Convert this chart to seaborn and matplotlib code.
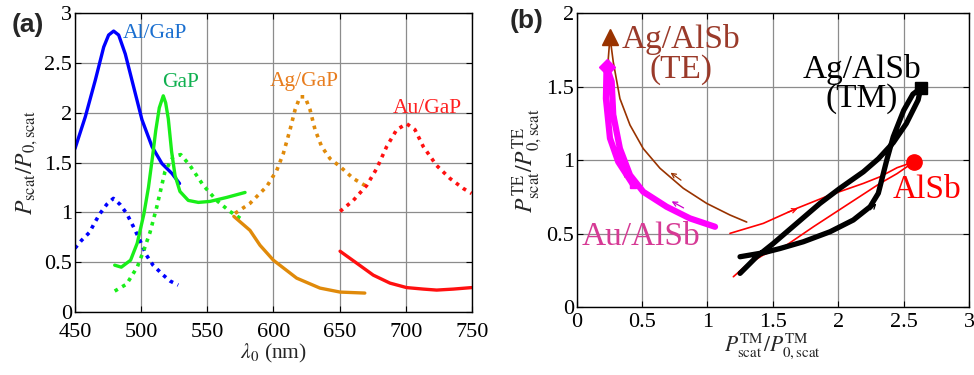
import numpy as np
import pandas as pd
import seaborn as sns
import matplotlib.pyplot as plt

# ---- panel (a): scattering spectra ----
al_x = [450, 457.8, 465.4, 471.7, 475.4, 479.2, 483, 488, 494.3, 500.6, 508.2, 515.7, 523.3, 529]
al_te = [1.64, 1.96, 2.33, 2.66, 2.78, 2.82, 2.78, 2.59, 2.26, 1.93, 1.66, 1.49, 1.39, 1.29]
al_tm_x = [450, 455, 461, 465, 469, 474, 479, 484, 489, 494, 499, 504, 509, 516.7, 522, 528]
al_tm = [0.64, 0.72, 0.80, 0.90, 0.99, 1.08, 1.14, 1.08, 0.99, 0.86, 0.72, 0.57, 0.47, 0.37, 0.31, 0.27]

gap_x = [480, 485, 492, 497, 502, 505.5, 508.5, 511, 513.7, 516.7, 518.5, 520.5, 523, 525.6, 529.3,
         535.6, 543.2, 552, 564.6, 578.5]
gap_te = [0.47, 0.45, 0.52, 0.69, 0.98, 1.25, 1.55, 1.82, 2.05, 2.17, 2.10, 1.94, 1.61, 1.37, 1.21,
          1.12, 1.10, 1.11, 1.15, 1.20]
gap_tm_x = [480, 489, 497, 502, 506.7, 511.7, 518, 524.3, 529.9, 536.9, 547, 557, 567, 577.2]
gap_tm = [0.21, 0.28, 0.45, 0.62, 0.80, 1.05, 1.41, 1.56, 1.58, 1.47, 1.27, 1.12, 1.01, 0.92]

ag_x = [570.9, 582.2, 594.9, 602.4, 607.4, 612.5, 616.3, 620, 623.8, 627.6, 631.4, 636.4, 642.7,
        650.3, 660.3, 669.1]
ag_dot = [0.99, 1.09, 1.26, 1.42, 1.59, 1.83, 2.03, 2.16, 2.16, 2.03, 1.83, 1.66, 1.54,
          1.46, 1.34, 1.27]
ag_sol_x = [570, 582.2, 589.8, 599.9, 617.5, 635.1, 650.3, 669]
ag_sol = [0.96, 0.82, 0.67, 0.52, 0.34, 0.24, 0.20, 0.19]

au_x = [650.3, 660.3, 670.4, 678, 685.5, 693.1, 700.6, 706.9, 713.2, 723.3, 733.4, 743.4, 749.7]
au_dot = [1.01, 1.12, 1.27, 1.44, 1.66, 1.83, 1.89, 1.83, 1.66, 1.47, 1.34, 1.24, 1.19]
au_sol_x = [650.3, 662.9, 675.4, 688, 700.6, 713.2, 723.3, 735.9, 749.7]
au_sol = [0.61, 0.49, 0.37, 0.29, 0.245, 0.23, 0.22, 0.23, 0.245]

# ---- panel (b): TE vs TM trajectories ----
agte_tm = [0.369, 0.318, 0.28, 0.242, 0.255, 0.28, 0.331, 0.408, 0.509, 0.637, 0.815, 0.994, 1.172, 1.30]
agte_te = [0.888, 1.127, 1.42, 1.69, 1.84, 1.67, 1.42, 1.24, 1.08, 0.946, 0.81, 0.707, 0.628, 0.58]

au_tm = [0.433, 0.318, 0.255, 0.224, 0.229, 0.268, 0.28, 0.331, 0.408, 0.509, 0.688, 0.866, 1.058]
au_te = [0.832, 0.99, 1.15, 1.42, 1.637, 1.535, 1.31, 1.08, 0.90, 0.786, 0.684, 0.605, 0.548]

agtm_tm = [1.249, 1.427, 1.555, 1.733, 1.937, 2.115, 2.243, 2.306, 2.37, 2.42, 2.50, 2.57, 2.63,
           2.61, 2.52, 2.42, 2.306, 2.192, 2.013, 1.86, 1.682, 1.504, 1.376, 1.249]
agtm_te = [0.344, 0.371, 0.40, 0.446, 0.514, 0.594, 0.684, 0.776, 1.00, 1.16, 1.34, 1.45, 1.49,
           1.41, 1.25, 1.12, 1.01, 0.922, 0.81, 0.707, 0.571, 0.435, 0.344, 0.231]

alsb_tm = [1.172, 1.427, 1.682, 1.937, 2.192, 2.319, 2.45, 2.58, 2.45, 2.319, 2.065, 1.81, 1.606,
           1.427, 1.30, 1.198]
alsb_te = [0.503, 0.571, 0.673, 0.764, 0.843, 0.888, 0.95, 0.99, 0.91, 0.843, 0.696, 0.548, 0.424,
           0.356, 0.288, 0.208]

sns.set_theme(style="whitegrid")
plt.rcParams['font.family'] = ['Liberation Serif', 'DejaVu Serif']
plt.rcParams['mathtext.fontset'] = 'stix'

fig = plt.figure(figsize=(9.74, 3.75), dpi=100)
ax1 = fig.add_axes([0.077, 0.168, 0.4076, 0.797])
ax2 = fig.add_axes([0.592, 0.1805, 0.403, 0.784])

GRID = '#8c8c8c'


def style(ax, xpad):
    ax.set_facecolor('white')
    for s in ax.spines.values():
        s.set_color('black')
        s.set_linewidth(1.0)
        s.set_visible(True)
    ax.grid(True, color=GRID, lw=0.9)
    ax.tick_params(direction='in', length=4, width=0.8, labelsize=16, colors='black',
                   top=True, right=True, bottom=True, left=True)
    ax.tick_params(axis='x', pad=xpad)
    ax.tick_params(axis='y', pad=2)


def fmt(v):
    return ('%g' % v)


def line(ax, x, y, **kw):
    sns.lineplot(x=x, y=y, ax=ax, sort=False, estimator=None, **kw)


dot = (0, (1, 1.4))

# panel (a)
line(ax1, al_x, al_te, color='#0000ff', lw=2.4)
line(ax1, al_tm_x, al_tm, color='#0000ff', lw=2.6, ls=dot)
line(ax1, gap_x, gap_te, color='#19ee19', lw=2.4)
line(ax1, gap_tm_x, gap_tm, color='#19ee19', lw=2.6, ls=dot)
line(ax1, ag_x, ag_dot, color='#e08a0a', lw=2.6, ls=dot)
line(ax1, ag_sol_x, ag_sol, color='#e08a0a', lw=2.4)
line(ax1, au_x, au_dot, color='#ff1010', lw=2.6, ls=dot)
line(ax1, au_sol_x, au_sol, color='#ff1010', lw=2.4)

ax1.text(486, 2.8, 'Al/GaP', color='#1a6fd0', fontsize=15.5, va='center')
ax1.text(516, 2.3, 'GaP', color='#10b050', fontsize=15.5, va='center')
ax1.text(597, 2.31, 'Ag/GaP', color='#e87d1e', fontsize=15.5, va='center')
ax1.text(690, 2.04, 'Au/GaP', color='#ff2020', fontsize=15.5, va='center')

ax1.set_xlim(450, 750)
ax1.set_ylim(0, 3)
xt = [450, 500, 550, 600, 650, 700, 750]
yt = [0, 0.5, 1, 1.5, 2, 2.5, 3]
ax1.set_xticks(xt)
ax1.set_xticklabels([fmt(v) for v in xt])
ax1.set_yticks(yt)
ax1.set_yticklabels([fmt(v) for v in yt])
style(ax1, 8)
ax1.set_xlabel(r'$\lambda_0$ (nm)', fontsize=15.5, labelpad=0)
ax1.set_ylabel(r'$P_{\rm scat}/P_{0,\rm scat}$', fontsize=17, labelpad=3)

# panel (b)
line(ax2, agte_tm, agte_te, color='#993300', lw=1.2)
line(ax2, au_tm, au_te, color='#ff00ff', lw=4.5)
line(ax2, alsb_tm, alsb_te, color='#ff0000', lw=1.2)
line(ax2, agtm_tm, agtm_te, color='black', lw=3.8)

ax2.plot(agte_tm[4], agte_te[4], marker='^', ms=11, color='#993300', clip_on=False)
ax2.plot(au_tm[4], au_te[4], marker='D', ms=8, color='#ff00ff')
ax2.plot(au_tm[0], au_te[0], marker='s', ms=5, color='#ff00ff')
ax2.plot(agtm_tm[12], agtm_te[12], marker='s', ms=9, color='black')
ax2.plot(alsb_tm[7], alsb_te[7], marker='o', ms=11, color='#ff0000')

arrows = [((0.815, 0.854), (0.70, 0.927), '#993300'),
          ((0.836, 0.667), (0.708, 0.73), '#cc00cc'),
          ((1.593, 0.639), (1.708, 0.678), '#ff0000'),
          ((2.23, 0.65), (2.306, 0.72), 'black')]
for tail, head, c in arrows:
    ax2.annotate('', xy=head, xytext=tail,
                 arrowprops=dict(arrowstyle='->', color=c, lw=0.9, mutation_scale=8))

ax2.text(0.80, 1.72, 'Ag/AlSb\n(TE)', color='#9a3a2a', fontsize=24, ha='center', va='center',
         linespacing=0.95)
ax2.text(2.18, 1.52, 'Ag/AlSb\n(TM)', color='black', fontsize=24, ha='center', va='center',
         linespacing=0.95)
ax2.text(2.68, 0.80, 'AlSb', color='#ff0000', fontsize=24, ha='center', va='center')
ax2.text(0.49, 0.48, 'Au/AlSb', color='#d63a95', fontsize=24, ha='center', va='center')

ax2.set_xlim(0, 3)
ax2.set_ylim(0, 2)
xt2 = [0, 0.5, 1, 1.5, 2, 2.5, 3]
yt2 = [0, 0.5, 1, 1.5, 2]
ax2.set_xticks(xt2)
ax2.set_xticklabels([fmt(v) for v in xt2])
ax2.set_yticks(yt2)
ax2.set_yticklabels([fmt(v) for v in yt2])
style(ax2, 4)
ax2.set_xlabel(r'$P^{\rm TM}_{\rm scat}/P^{\rm TM}_{0,\rm scat}$', fontsize=15.5, labelpad=0)
ax2.set_ylabel(r'$P^{\rm TE}_{\rm scat}/P^{\rm TE}_{0,\rm scat}$', fontsize=17, labelpad=1)

fig.text(0.012, 0.915, '(a)', fontsize=19, fontweight='bold', family='Liberation Sans')
fig.text(0.523, 0.925, '(b)', fontsize=19, fontweight='bold', family='Liberation Sans')

fig.savefig('out.png', dpi=100, facecolor='white')
